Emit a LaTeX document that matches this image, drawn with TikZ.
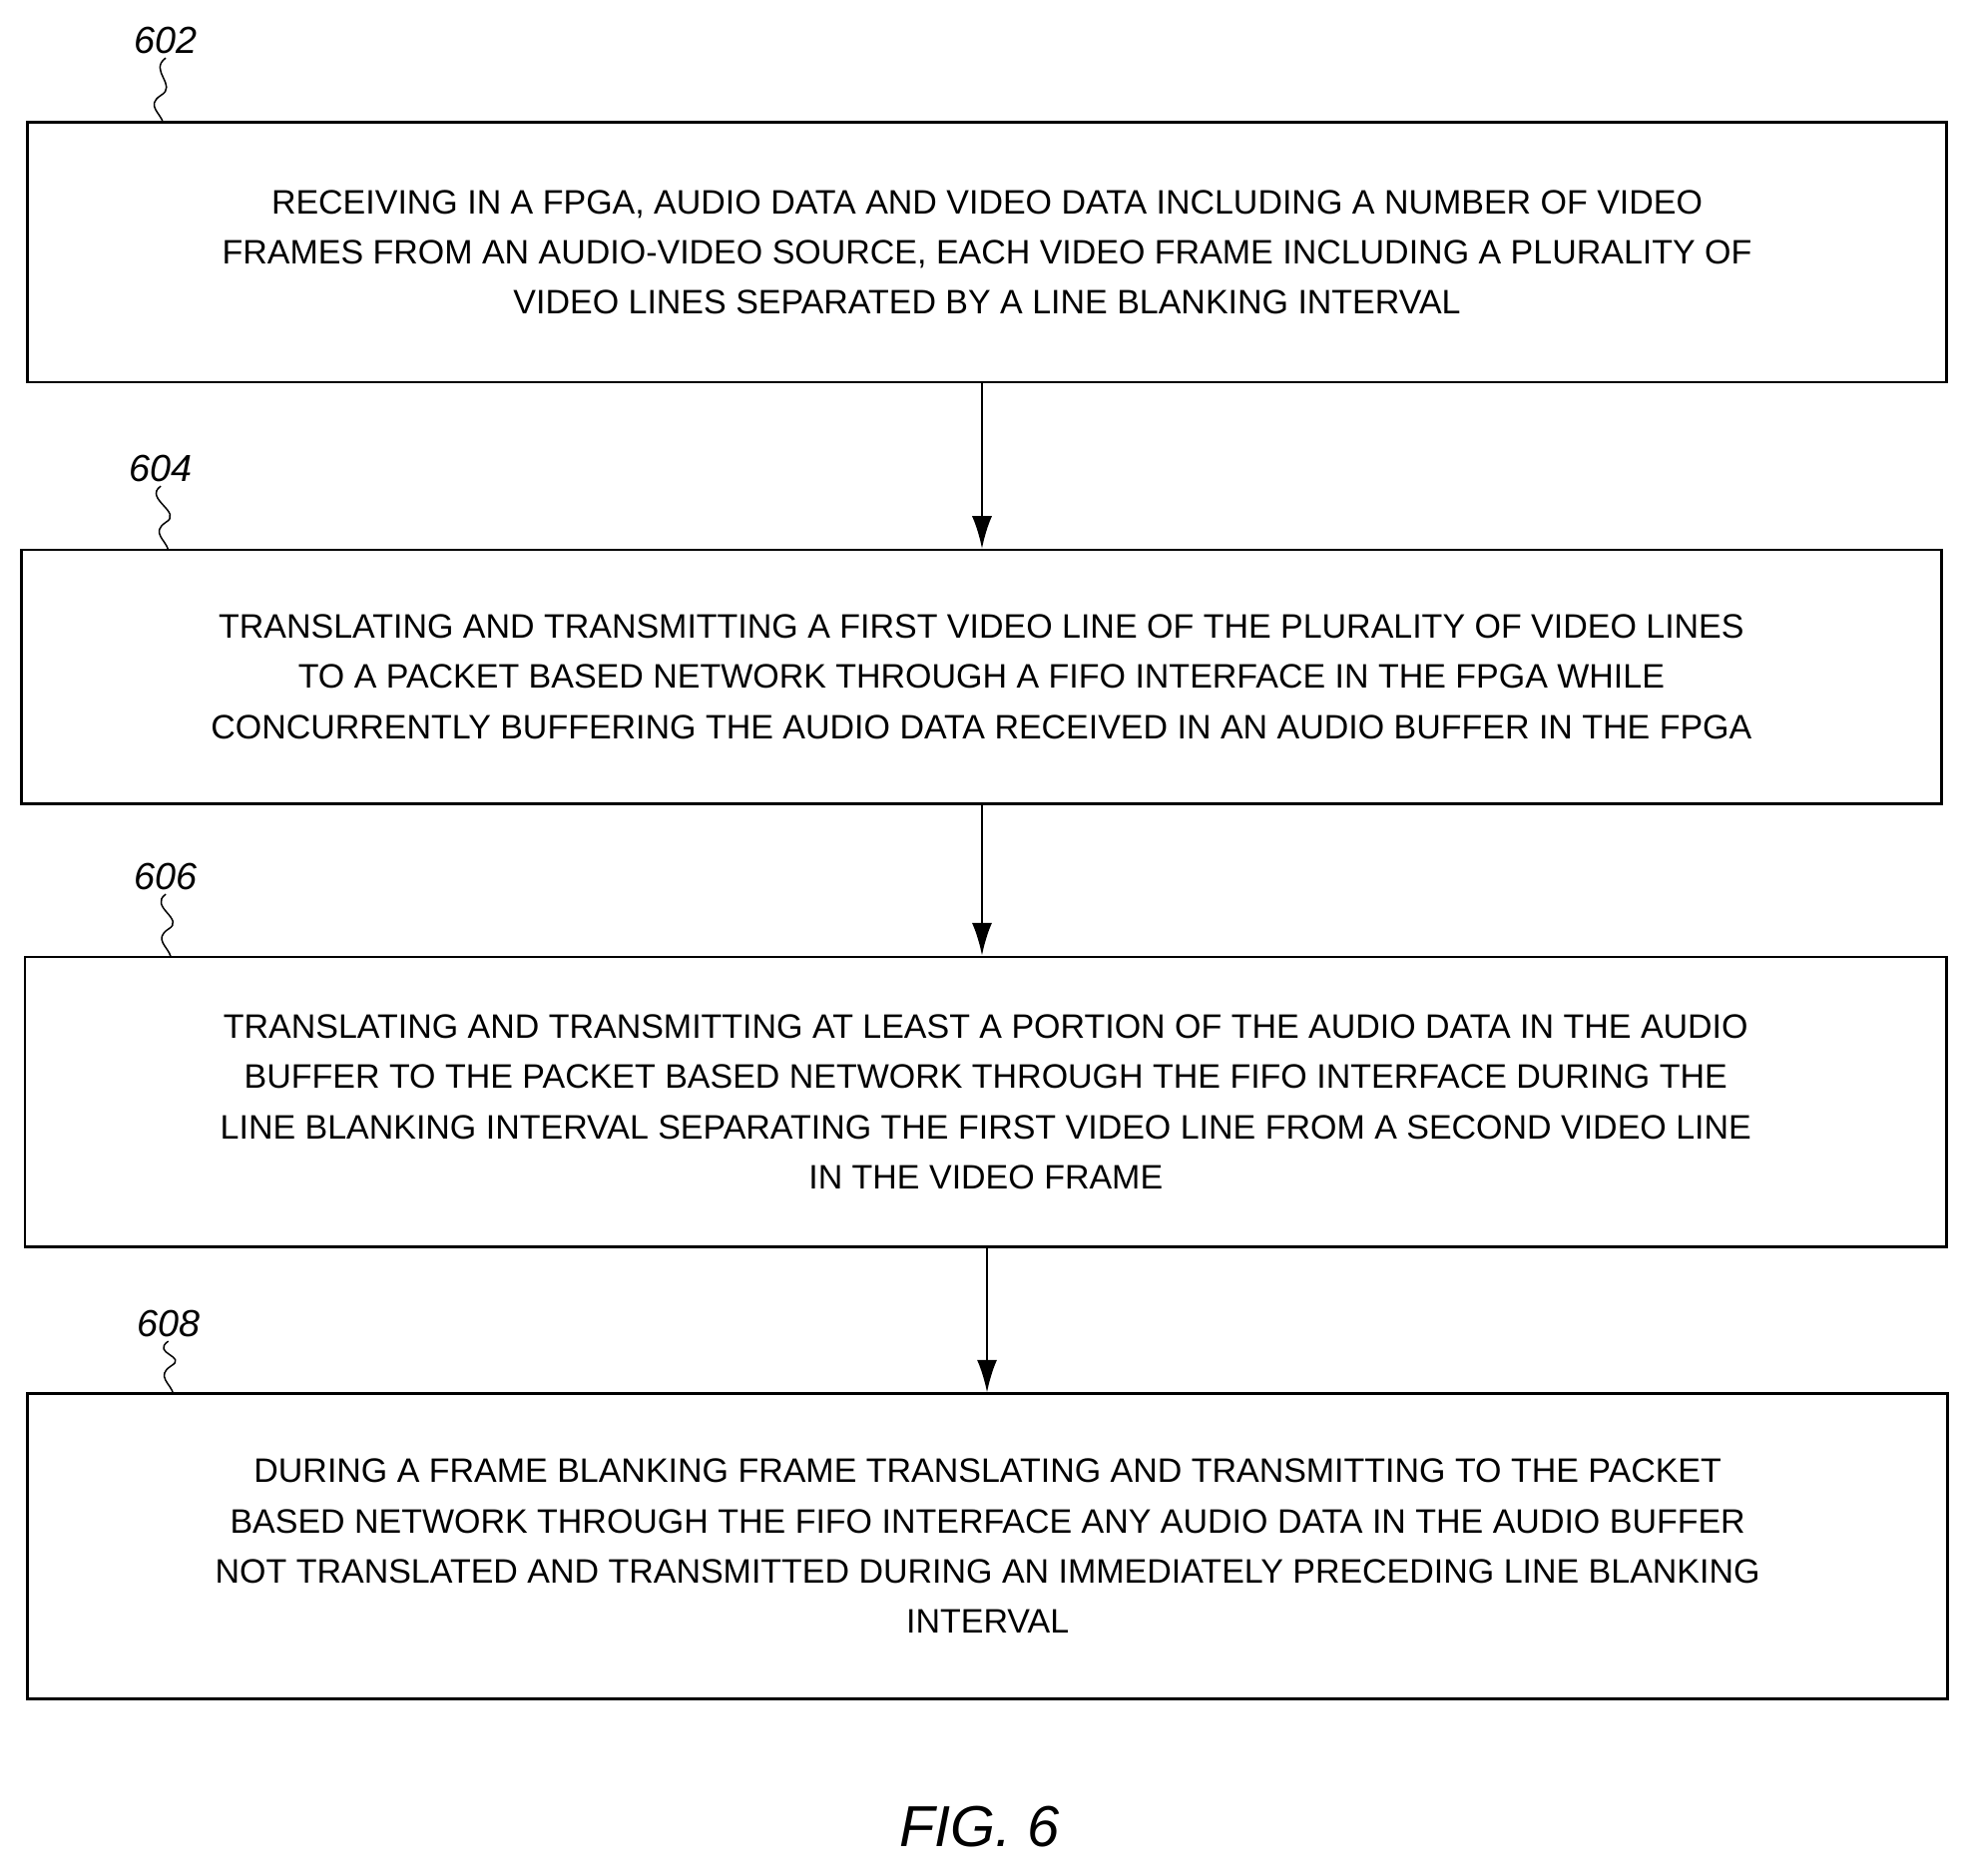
\documentclass[tikz,border=0pt]{standalone}
\usepackage{fontspec}
\setmainfont{Liberation Sans}
\usetikzlibrary{positioning,arrows.meta}
\tikzstyle{block} = [draw, line width=2pt, rectangle, align=center,
    inner sep=0pt, font=\fontsize{27}{40}\selectfont]
\tikzstyle{tag} = [font=\itshape\fontsize{30}{36}\selectfont]
\tikzstyle{flow} = [line width=2pt, -{Latex[length=26pt,width=16pt]}]
\tikzstyle{squig} = [line width=1.2pt]

\begin{document}
\begin{tikzpicture}[x=1pt, y=-1pt]
    \useasboundingbox (0,0) rectangle (1568,1494);
    % Step blocks
    \node [block, minimum width=1528pt, minimum height=207pt] (s602) at (786,201)
        {RECEIVING IN A FPGA, AUDIO DATA AND VIDEO DATA INCLUDING A NUMBER OF VIDEO\\
         FRAMES FROM AN AUDIO-VIDEO SOURCE, EACH VIDEO FRAME INCLUDING A PLURALITY OF\\
         VIDEO LINES SEPARATED BY A LINE BLANKING INTERVAL};
    \node [block, minimum width=1529pt, minimum height=202pt] (s604) at (781.5,539)
        {TRANSLATING AND TRANSMITTING A FIRST VIDEO LINE OF THE PLURALITY OF VIDEO LINES\\
         TO A PACKET BASED NETWORK THROUGH A FIFO INTERFACE IN THE FPGA WHILE\\
         CONCURRENTLY BUFFERING THE AUDIO DATA RECEIVED IN AN AUDIO BUFFER IN THE FPGA};
    \node [block, minimum width=1530pt, minimum height=231pt] (s606) at (785,877.5)
        {TRANSLATING AND TRANSMITTING AT LEAST A PORTION OF THE AUDIO DATA IN THE AUDIO\\
         BUFFER TO THE PACKET BASED NETWORK THROUGH THE FIFO INTERFACE DURING THE\\
         LINE BLANKING INTERVAL SEPARATING THE FIRST VIDEO LINE FROM A SECOND VIDEO LINE\\
         IN THE VIDEO FRAME};
    \node [block, minimum width=1529pt, minimum height=243pt] (s608) at (786.5,1231.5)
        {DURING A FRAME BLANKING FRAME TRANSLATING AND TRANSMITTING TO THE PACKET\\
         BASED NETWORK THROUGH THE FIFO INTERFACE ANY AUDIO DATA IN THE AUDIO BUFFER\\
         NOT TRANSLATED AND TRANSMITTED DURING AN IMMEDIATELY PRECEDING LINE BLANKING\\
         INTERVAL};

    % Reference numerals
    \node [tag] (n602) at (132,32) {602};
    \node [tag] (n604) at (128,373) {604};
    \node [tag] (n606) at (132,698) {606};
    \node [tag] (n608) at (134,1054) {608};
    \foreach \n/\x/\y in {602/130/98, 604/134/438, 606/136/762, 608/138/1110} {
        \draw [squig] (n\n.south) .. controls +(-14,10) and +(14,-8) .. (\x-2,\y-22)
            .. controls +(-12,8) and +(-2,-8) .. (\x,\y);
    }

    % Arrows
    \draw [flow] (s602.south -| 782,0) -- (s604.north -| 782,0);
    \draw [flow] (s604.south -| 782,0) -- (s606.north -| 782,0);
    \draw [flow] (s606.south -| 786,0) -- (s608.north -| 786,0);

    \node [font=\itshape\fontsize{46}{50}\selectfont] (fig) at (780,1455) {FIG. 6};
\end{tikzpicture}
\end{document}
